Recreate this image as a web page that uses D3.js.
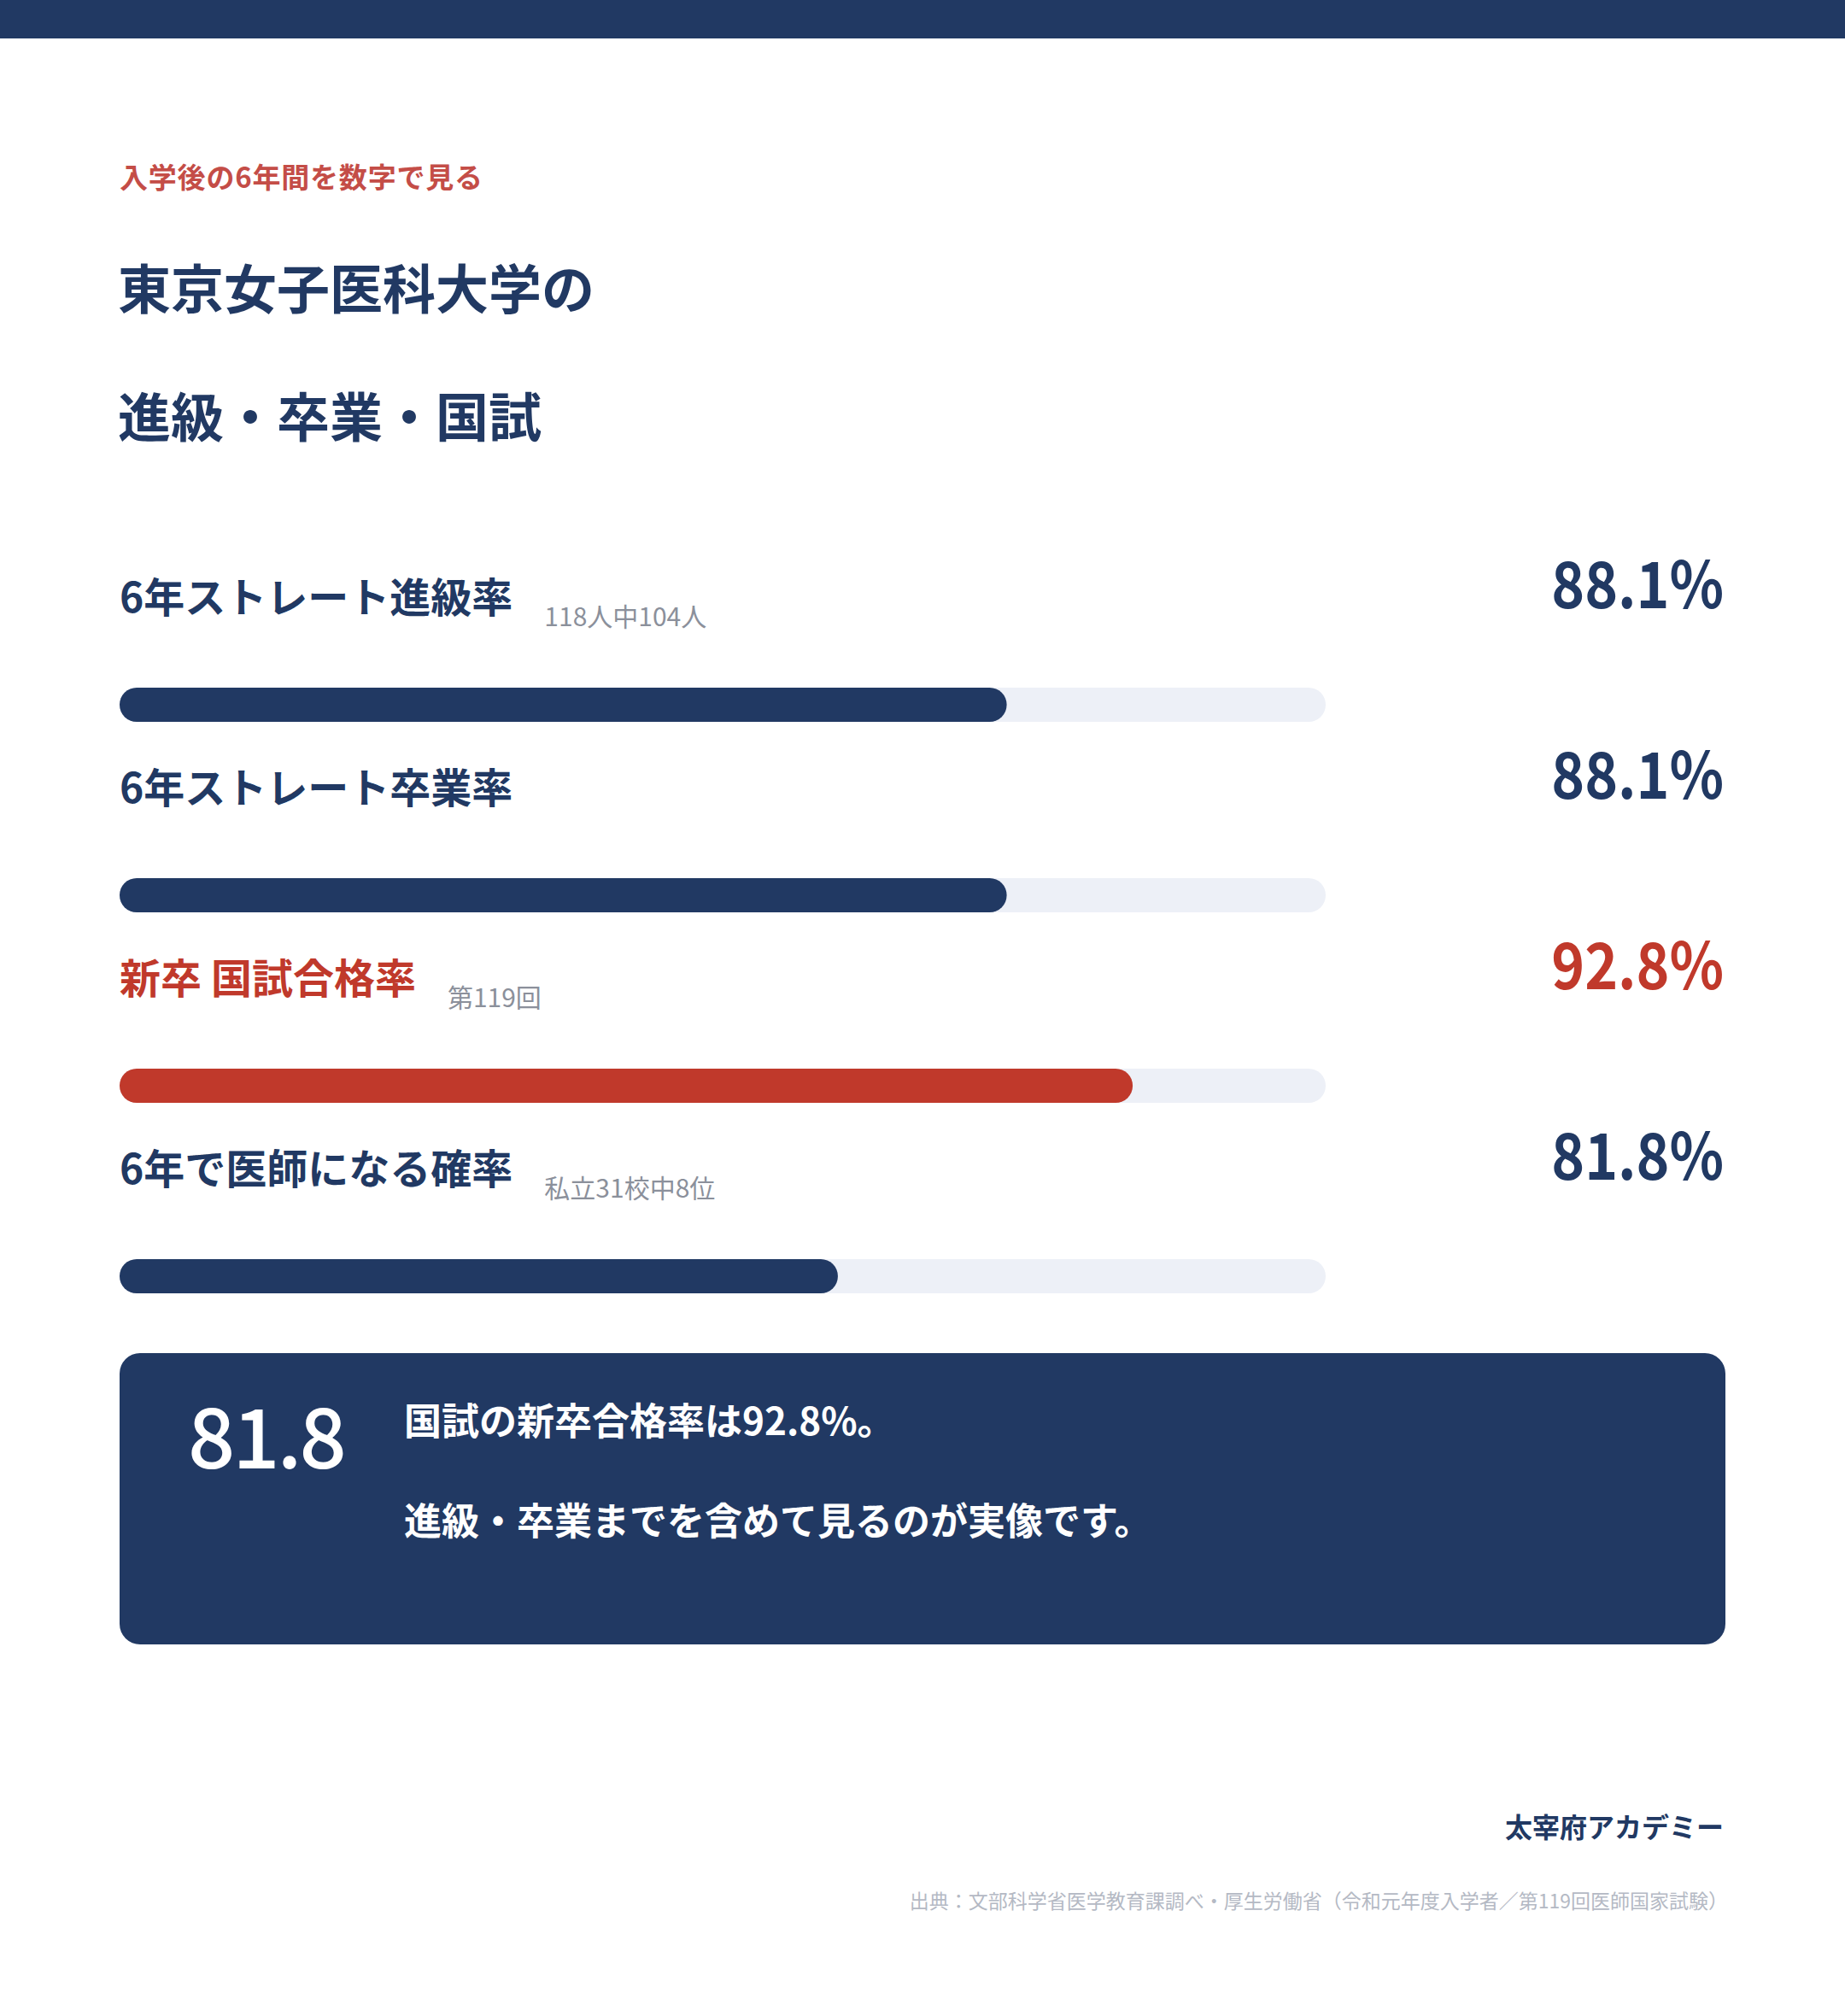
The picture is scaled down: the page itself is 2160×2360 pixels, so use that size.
<!DOCTYPE html>
<html>
<head>
<meta charset="utf-8">
<script src="https://cdn.jsdelivr.net/npm/d3@7"></script>
<style>
  body { margin: 0; background: #fff; }
  text { font-family: "Noto Sans CJK JP", "Noto Sans", sans-serif; }
</style>
</head>
<body>
<div id="viz-container"></div>
<script>
// chart data
const labels = ["6年ストレート進級率", "6年ストレート卒業率", "新卒 国試合格率", "6年で医師になる確率"];
const values = [88.1, 88.1, 92.8, 81.8];
const notes = ["118人中104人", "", "第119回", "私立31校中8位"];
const highlightLabel = "新卒 国試合格率";
const scaleDomain = [55, 100];

const kicker = "入学後の6年間を数字で見る";
const titleLines = ["東京女子医科大学の", "進級・卒業・国試"];
const boxLines = ["国試の新卒合格率は92.8%。", "進級・卒業までを含めて見るのが実像です。"];
const brand = "太宰府アカデミー";
const source = "出典：文部科学省医学教育課調べ・厚生労働省（令和元年度入学者／第119回医師国家試験）";

const navy = "#213963";
const red = "#c0392b";
const track = "#edf0f7";

let viz = d3.select("#viz-container")
    .append("svg")
    .attr("width", 2160)
    .attr("height", 2360)
    .style("background-color", "#fff");

// top band
viz.append("rect")
    .attr("x", 0).attr("y", 0)
    .attr("width", 2160).attr("height", 45)
    .attr("fill", navy);

// heading
viz.append("text")
    .attr("x", 140).attr("y", 220)
    .attr("font-size", 33).attr("font-weight", 700)
    .attr("letter-spacing", 0.8)
    .attr("fill", "#c44d47")
    .text(kicker);

viz.selectAll(".title").data(titleLines).enter().append("text")
    .attr("class", "title")
    .attr("x", 138)
    .attr("y", (d, i) => 362 + i * 150)
    .attr("font-size", 62).attr("font-weight", 700)
    .attr("fill", navy)
    .text(d => d);

// scales
let x = d3.scaleLinear().domain(scaleDomain).range([140, 1552]);
let rowY = d3.scaleLinear().domain([0, labels.length - 1]).range([805, 805 + 3 * 223]);

let rows = viz.selectAll(".row").data(labels).enter().append("g")
    .attr("class", "row")
    .attr("transform", (d, i) => "translate(0," + rowY(i) + ")");

rows.append("text")
    .attr("class", "label")
    .attr("x", 140).attr("y", -88)
    .attr("font-size", 48).attr("font-weight", 700)
    .attr("fill", d => d === highlightLabel ? red : navy)
    .text(d => d);

rows.each(function (d, i) {
    let g = d3.select(this);
    let len = g.select(".label").node().getComputedTextLength();
    if (notes[i]) {
        g.append("text")
            .attr("x", 140 + len + 37).attr("y", -72)
            .attr("font-size", 30).attr("font-weight", 400)
            .attr("fill", "#8b909b")
            .text(notes[i]);
    }
});

// big percentage, a bit narrower than the bold face
rows.append("text")
    .attr("transform", "translate(2018,-93) scale(0.88,1)")
    .attr("text-anchor", "end")
    .attr("font-size", 75).attr("font-weight", 700)
    .attr("fill", d => d === highlightLabel ? red : navy)
    .text((d, i) => values[i].toFixed(1) + "%");

// track + fill
rows.append("rect")
    .attr("x", x.range()[0]).attr("y", 0)
    .attr("width", x.range()[1] - x.range()[0]).attr("height", 40)
    .attr("rx", 20)
    .attr("fill", track);

rows.append("rect")
    .attr("x", x.range()[0]).attr("y", 0)
    .attr("width", (d, i) => x(values[i]) - x.range()[0]).attr("height", 40)
    .attr("rx", 20)
    .attr("fill", d => d === highlightLabel ? red : navy);

// summary box
let box = viz.append("g").attr("transform", "translate(140,1584)");
box.append("rect")
    .attr("width", 1880).attr("height", 341)
    .attr("rx", 24)
    .attr("fill", navy);

box.append("text")
    .attr("x", 80).attr("y", 135)
    .attr("font-size", 97).attr("font-weight", 500)
    .attr("letter-spacing", -3)
    .attr("fill", "#fff")
    .text(values[3].toFixed(1));

box.selectAll(".boxline").data(boxLines).enter().append("text")
    .attr("class", "boxline")
    .attr("x", 333)
    .attr("y", (d, i) => 96 + i * 117)
    .attr("font-size", 44).attr("font-weight", 700)
    .attr("fill", "#fff")
    .text(d => d);

// footer
viz.append("text")
    .attr("x", 2018).attr("y", 2151)
    .attr("text-anchor", "end")
    .attr("font-size", 32).attr("font-weight", 700)
    .attr("fill", navy)
    .text(brand);

viz.append("text")
    .attr("x", 2023).attr("y", 2234)
    .attr("text-anchor", "end")
    .attr("font-size", 23).attr("font-weight", 400)
    .attr("fill", "#b4b9c4")
    .text(source);
</script>
</body>
</html>
